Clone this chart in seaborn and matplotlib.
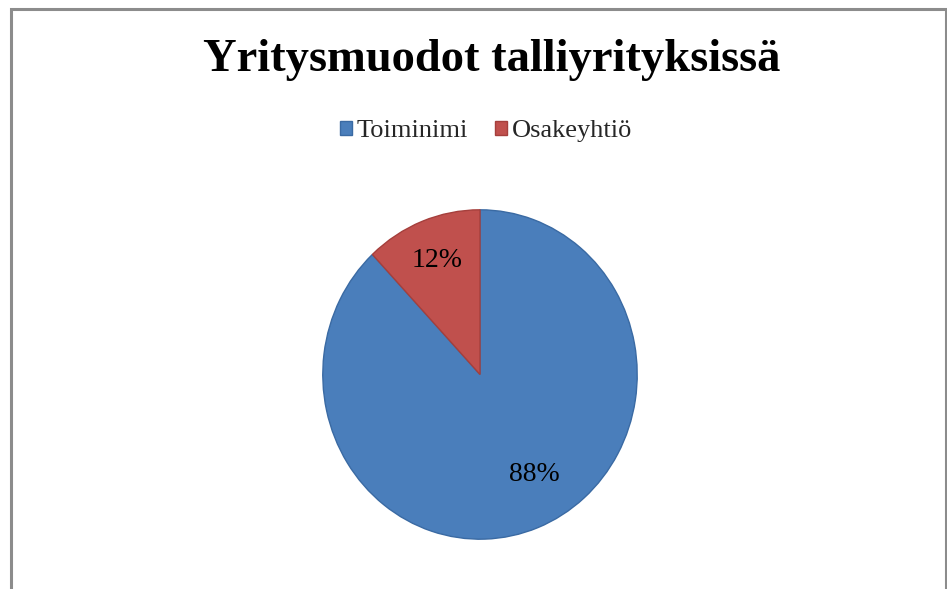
import matplotlib
matplotlib.use("Agg")
import matplotlib.pyplot as plt
import matplotlib.patches as mpatches
import numpy as np
import seaborn as sns

title = "Yritysmuodot talliyrityksissä"
categories = ["Toiminimi", "Osakeyhtiö"]
shares = [88, 12]
colors = ["#4A7EBB", "#C0504D"]
edge_colors = ["#3A6AA3", "#A53F3C"]

sns.set_theme(style="white")
plt.rcParams["font.family"] = ["Liberation Serif", "DejaVu Serif"]

fig = plt.figure(figsize=(9.47, 5.89), dpi=100)
fig.patch.set_facecolor("white")

# chart border (gray frame, bottom edge cut off like the original)
frame = mpatches.Rectangle((11 / 947, -0.05), 935 / 947, 1 - 9 / 589 + 0.05,
                           transform=fig.transFigure, fill=False,
                           edgecolor="#8c8c8c", linewidth=2.2)
fig.patches.append(frame)

fig.text(492 / 947, 1 - 60 / 589, title, ha="center", va="center",
         fontsize=33.5, fontweight="bold", color="black")

# pie box: x 322..638, y 209..540 (slightly stretched vertically as in the original)
x0, x1, y0, y1 = 322, 638, 209, 540
ax = fig.add_axes([x0 / 947, (589 - y1) / 589, (x1 - x0) / 947, (y1 - y0) / 589])
wedges, texts = ax.pie(shares, colors=colors, startangle=90, counterclock=False)
for w, c in zip(wedges, edge_colors):
    w.set_edgecolor(c)
    w.set_linewidth(1.0)
ax.set_aspect("auto")
ax.set_xlim(-1.005, 1.005)
ax.set_ylim(-1.005, 1.005)

# percentage labels inside the slices (distance, angle shift like Excel's placement)
labels = [f"{v}%" for v in shares]
ang = 90.0
dists = [0.70, 0.745]
shifts = [8.0, 0.0]
for v, lab, d, s in zip(shares, labels, dists, shifts):
    mid = ang - v * 3.6 / 2 + s
    ang -= v * 3.6
    ax.text(d * np.cos(np.radians(mid)), d * np.sin(np.radians(mid)), lab,
            ha="center", va="center", fontsize=20, color="black")

handles = [mpatches.Patch(facecolor=c, edgecolor=e, label=n)
           for c, e, n in zip(colors, edge_colors, categories)]
fig.legend(handles=handles, loc="center", bbox_to_anchor=(486 / 947, 1 - 131 / 589),
           ncol=2, frameon=False, fontsize=19, handlelength=0.45, handleheight=0.45,
           handletextpad=0.2, columnspacing=1.0)

fig.savefig("out.png", dpi=100)
